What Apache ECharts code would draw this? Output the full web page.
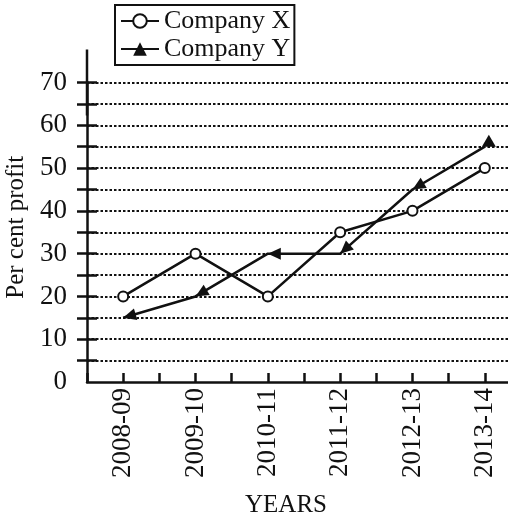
<!DOCTYPE html>
<html>
<head>
<meta charset="utf-8">
<script src="https://cdn.jsdelivr.net/npm/echarts@6/dist/echarts.min.js"></script>
<style>
  html, body { margin: 0; padding: 0; background: #fff; }
  #chart { width: 508px; height: 515px; }
</style>
</head>
<body>
<div id="chart"></div>
<script>
// Per cent profit of two companies by financial year
const years = ['2008-09', '2009-10', '2010-11', '2011-12', '2012-13', '2013-14'];
const companyX = [20, 30, 20, 35, 40, 50];
const companyY = [15, 20, 30, 30, 45, 55];
const yTickValues = [5, 10, 15, 20, 25, 30, 35, 40, 45, 50, 55, 60, 65, 70];
const yLabelValues = [0, 10, 20, 30, 40, 50, 60, 70];

const FONT = 'Liberation Serif, Times New Roman, serif';
const INK = '#111';
// arrow-head with its tip at the symbol centre (the leading moveTo pads the box)
const ARROW = 'path://M0,-2L0,-2M0,0L1,2L-1,2Z';

const chart = echarts.init(document.getElementById('chart'), null, { renderer: 'canvas' });

function yAxisBase(extra) {
  return Object.assign({
    type: 'value',
    position: 'left',
    min: 0,
    max: 70,
    interval: 5,
    axisLine: { show: false },
    axisLabel: { show: false },
    splitLine: { show: false }
  }, extra);
}

function seriesYData(angles) {
  return companyY.map((v, i) => {
    if (i === companyY.length - 1) {
      return { value: v, symbol: 'triangle', symbolSize: [14, 12], symbolOffset: [4, -6] };
    }
    return { value: v, symbol: ARROW, symbolSize: [12, 26], symbolRotate: angles ? angles[i] : 0 };
  });
}

const tickStyle = { color: INK, width: 2.5 };

const option = {
  animation: false,
  backgroundColor: '#fff',
  textStyle: { fontFamily: FONT, color: INK },
  grid: { left: 87, right: -13, top: 82.5, bottom: 133, outerBoundsMode: 'none' },
  legend: {
    orient: 'vertical',
    left: 115,
    top: 5,
    padding: [3, 4, 3, 5],
    itemGap: 2,
    itemWidth: 38,
    itemHeight: 17,
    borderColor: INK,
    borderWidth: 2,
    backgroundColor: '#fff',
    textStyle: { fontFamily: FONT, fontSize: 26, color: INK },
    data: ['Company X', 'Company Y']
  },
  xAxis: [
    {
      type: 'category',
      position: 'bottom',
      data: years,
      axisLine: { show: true, lineStyle: { color: INK, width: 2.5 } },
      axisTick: { show: true, inside: true, length: 9, alignWithLabel: true, lineStyle: tickStyle },
      axisLabel: { rotate: 90, margin: 6, fontFamily: FONT, fontSize: 27, color: INK },
      name: 'YEARS',
      nameLocation: 'middle',
      nameGap: 111,
      nameTextStyle: { fontFamily: FONT, fontSize: 25, color: INK, padding: [0, 36, 0, 0] },
      z: 5
    },
    {
      type: 'category',
      position: 'bottom',
      data: years,
      axisLine: { show: false },
      axisTick: { show: true, inside: true, length: 9, lineStyle: tickStyle },
      axisLabel: { show: false },
      splitLine: { show: false },
      z: 5
    }
  ],
  yAxis: [
    yAxisBase({
      axisLine: {
        show: true,
        lineStyle: { color: INK, width: 2.5 },
        symbol: ['none', 'rect'],
        symbolSize: [2.5, 66]
      },
      axisTick: { show: true, inside: false, length: 10, customValues: yTickValues, lineStyle: tickStyle },
      axisLabel: {
        show: true,
        margin: 20,
        customValues: yLabelValues,
        fontFamily: FONT,
        fontSize: 27,
        color: INK,
        formatter: v => (v % 10 === 0 ? String(v) : '')
      },
      splitLine: { show: true, lineStyle: { color: INK, width: 2, type: [2.5, 2] } },
      name: 'Per cent profit',
      nameLocation: 'middle',
      nameGap: 53,
      nameTextStyle: { fontFamily: FONT, fontSize: 25, color: INK, padding: [0, 0, 0, 10] }
    }),
    yAxisBase({
      axisTick: { show: true, inside: true, length: 10, customValues: yTickValues, lineStyle: tickStyle },
      z: 5
    })
  ],
  series: [
    {
      name: 'Company X',
      type: 'line',
      xAxisIndex: 0,
      yAxisIndex: 0,
      data: companyX,
      symbol: 'emptyCircle',
      symbolSize: 10,
      lineStyle: { color: INK, width: 2.5 },
      itemStyle: { color: INK, borderColor: INK, borderWidth: 2 },
      z: 3
    },
    {
      name: 'Company Y',
      type: 'line',
      xAxisIndex: 0,
      yAxisIndex: 0,
      data: seriesYData(null),
      symbol: 'triangle',
      lineStyle: { color: INK, width: 2.5 },
      itemStyle: { color: INK },
      z: 4
    }
  ]
};

chart.setOption(option);

// Point each arrow-head back along the segment that arrives from the next year
const angles = companyY.map((v, i) => {
  if (i === companyY.length - 1) return 0;
  const p = chart.convertToPixel({ seriesIndex: 1 }, [i, v]);
  const q = chart.convertToPixel({ seriesIndex: 1 }, [i + 1, companyY[i + 1]]);
  const dx = p[0] - q[0];
  const dy = p[1] - q[1];
  return Math.atan2(-dy, dx) * 180 / Math.PI - 90;
});
chart.setOption({ series: [{}, { data: seriesYData(angles) }] });
</script>
</body>
</html>
